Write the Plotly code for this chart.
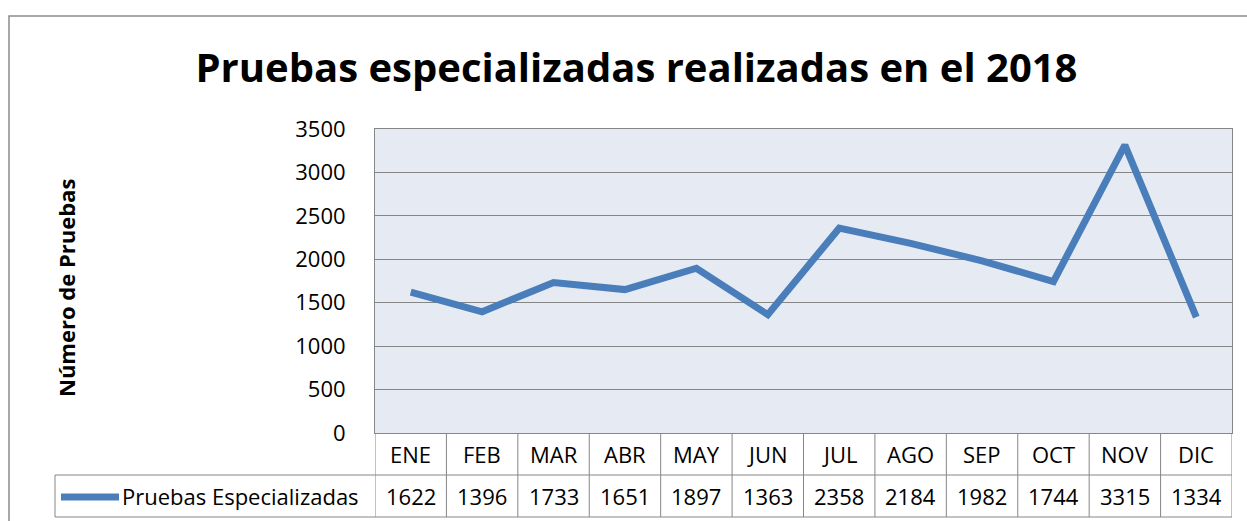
import plotly.graph_objects as go

months = ["ENE", "FEB", "MAR", "ABR", "MAY", "JUN", "JUL", "AGO", "SEP", "OCT", "NOV", "DIC"]
values = [1622, 1396, 1733, 1651, 1897, 1363, 2358, 2184, 1982, 1744, 3315, 1334]
series_name = "Pruebas Especializadas"
title = "Pruebas especializadas realizadas en el 2018"
y_title = "Número de Pruebas"
y_ticks = [0, 500, 1000, 1500, 2000, 2500, 3000, 3500]

W, H = 1247, 521
L, R, T, B = 375, 15, 129, 88
pw, ph = W - L - R, H - T - B

def px_x(px):
    return (px - L) / pw

def px_y(py):
    return (H - B - py) / ph

LINE = "#4A7EBB"
GRID = "#868686"
FONT = "Open Sans"
FS = 22

fig = go.Figure()
fig.add_trace(go.Scatter(x=list(range(len(months))), y=values, mode="lines",
                         line=dict(color=LINE, width=7), showlegend=False,
                         name=series_name))

shapes = []
annotations = []

# outer chart border
shapes.append(dict(type="rect", xref="paper", yref="paper",
                   x0=px_x(9), x1=px_x(1260), y0=px_y(16), y1=px_y(540),
                   line=dict(color="#8C8C8C", width=1.5), fillcolor="rgba(0,0,0,0)", layer="below"))

row1_top, row1_bot, row2_bot = 433, 475, 517
# horizontal table lines
shapes.append(dict(type="line", xref="x", yref="paper", x0=-0.5, x1=len(months) - 0.5,
                   y0=px_y(row1_bot), y1=px_y(row1_bot), line=dict(color=GRID, width=1)))
shapes.append(dict(type="line", xref="paper", yref="paper", x0=px_x(55), x1=px_x(L),
                   y0=px_y(row1_bot), y1=px_y(row1_bot), line=dict(color=GRID, width=1)))
shapes.append(dict(type="line", xref="paper", yref="paper", x0=px_x(55), x1=1,
                   y0=px_y(row2_bot), y1=px_y(row2_bot), line=dict(color=GRID, width=1)))
shapes.append(dict(type="line", xref="paper", yref="paper", x0=px_x(55), x1=px_x(55),
                   y0=px_y(row1_bot), y1=px_y(row2_bot), line=dict(color=GRID, width=1)))
# vertical table lines
for i in range(len(months) + 1):
    shapes.append(dict(type="line", xref="x", yref="paper", x0=i - 0.5, x1=i - 0.5,
                       y0=0, y1=px_y(row2_bot), line=dict(color=GRID, width=1)))
# legend sample
shapes.append(dict(type="line", xref="paper", yref="paper", x0=px_x(61), x1=px_x(119),
                   y0=px_y(497), y1=px_y(497), line=dict(color=LINE, width=7)))

for i, (m, v) in enumerate(zip(months, values)):
    annotations.append(dict(x=i, y=px_y((row1_top + row1_bot) / 2), xref="x", yref="paper",
                            xanchor="center", yanchor="middle",
                            text=m, showarrow=False, font=dict(family=FONT, size=FS, color="#000")))
    annotations.append(dict(x=i, y=px_y((row1_bot + row2_bot) / 2), xref="x", yref="paper",
                            xanchor="center", yanchor="middle",
                            text=str(v), showarrow=False, font=dict(family=FONT, size=FS, color="#000")))
annotations.append(dict(x=px_x(120), y=px_y((row1_bot + row2_bot) / 2), xref="paper", yref="paper",
                        text=series_name, showarrow=False, xanchor="left", yanchor="middle",
                        font=dict(family=FONT, size=FS, color="#000")))
annotations.append(dict(x=px_x(66), y=px_y(288), xref="paper", yref="paper", text="<b>" + y_title + "</b>",
                        xanchor="center", yanchor="middle",
                        textangle=-90, showarrow=False, font=dict(family=FONT, size=FS, color="#000")))

fig.update_layout(
    width=W, height=H,
    margin=dict(l=L, r=R, t=T, b=B),
    paper_bgcolor="white",
    plot_bgcolor="#E6EBF3",
    title=dict(text="<b>" + title + "</b>", x=636.5 / W, xref="container", xanchor="center",
               y=1 - 68 / H, yref="container", yanchor="middle",
               font=dict(family=FONT, size=40, color="#000")),
    xaxis=dict(range=[-0.5, len(months) - 0.5], showticklabels=False, showgrid=False,
               zeroline=False, showline=True, linecolor=GRID, mirror=True, fixedrange=True),
    yaxis=dict(range=[0, 3500], tickvals=y_ticks, showgrid=True, gridcolor=GRID, gridwidth=1,
               zeroline=False, showline=True, linecolor=GRID, mirror=True,
               ticks="outside", ticklen=24, tickcolor="rgba(0,0,0,0)",
               tickfont=dict(family=FONT, size=FS, color="#000")),
    shapes=shapes,
    annotations=annotations,
    showlegend=False,
)

fig.write_html("out.html", config={"displayModeBar": False},
               post_script="document.body.style.margin='0px';")
